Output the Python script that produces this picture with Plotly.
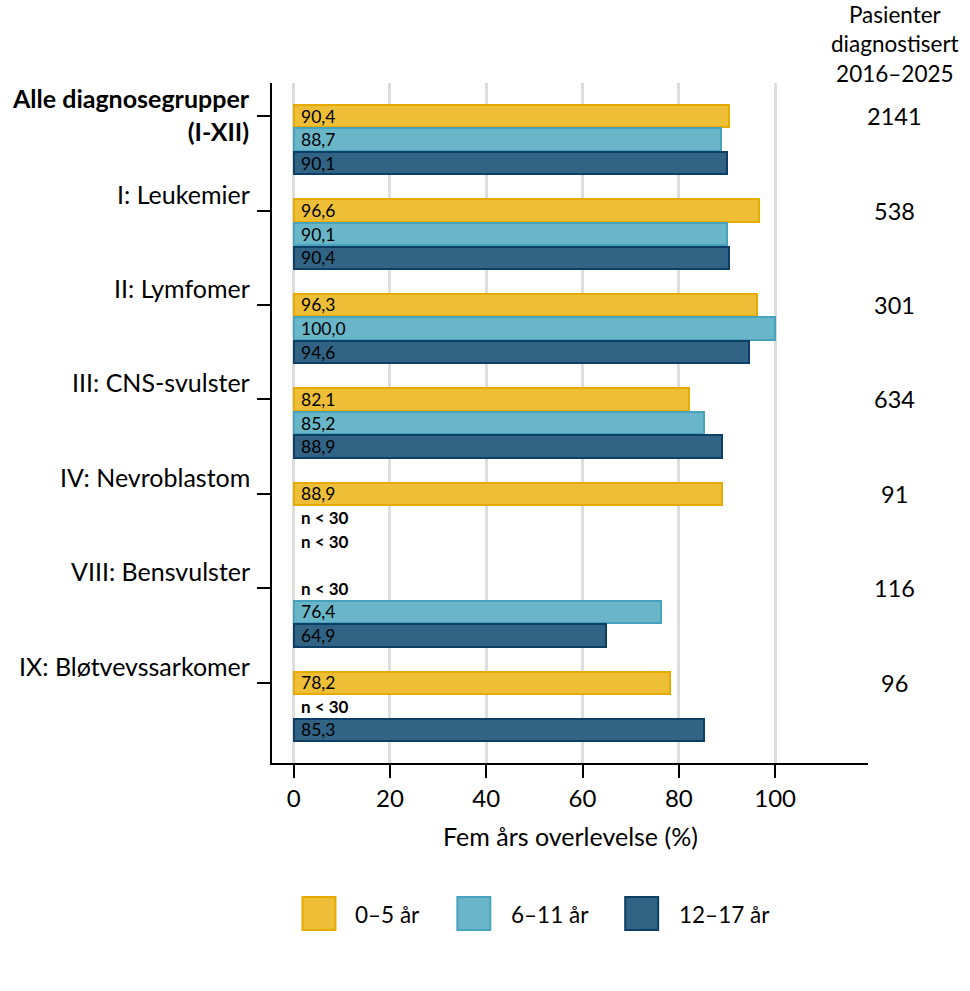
import plotly.graph_objects as go

categories = ["Alle diagnosegrupper<br>(I-XII)", "I: Leukemier", "II: Lymfomer", "III: CNS-svulster",
              "IV: Nevroblastom", "VIII: Bensvulster", "IX: Bløtvevssarkomer"]
bold_category = [True, False, False, False, False, False, False]
series_names = ["0–5 år", "6–11 år", "12–17 år"]
age_0_5 = [90.4, 96.6, 96.3, 82.1, 88.9, None, 78.2]
age_6_11 = [88.7, 90.1, 100.0, 85.2, None, 76.4, None]
age_12_17 = [90.1, 90.4, 94.6, 88.9, None, 64.9, 85.3]
patients = [2141, 538, 301, 634, 91, 116, 96]
x_ticks = [0, 20, 40, 60, 80, 100]
header_lines = ["Pasienter", "diagnostisert", "2016–2025"]
x_title = "Fem års overlevelse (%)"
missing_label = "n < 30"

fills = ["#EDBE36", "#69B6C9", "#316384"]
borders = ["#E6AA00", "#47A3BD", "#0D3E66"]

FONT = "Lato"
W, H = 970, 991
L, R, T, B = 271.5, 102, 83, 228
PW, PH = W - L - R, H - T - B


def px_x(px):
    return (px - L) / PW


def px_y(py):
    return (H - B - py) / PH


def fmt(v):
    return f"{v:.1f}".replace(".", ",")


fig = go.Figure()
all_series = [age_0_5, age_6_11, age_12_17]
annotations = []
n_groups = len(categories)

for j, vals in enumerate(all_series):
    ys = [4 * i + j for i in range(n_groups)]
    fig.add_trace(go.Bar(
        x=[v for v in vals], y=ys, orientation="h", width=0.95,
        marker=dict(color=fills[j], line=dict(color=borders[j], width=2)),
        name=series_names[j], showlegend=False, hoverinfo="skip",
    ))
    for i, v in enumerate(vals):
        if v is not None:
            annotations.append(dict(x=0, y=ys[i], xref="x", yref="y", text=fmt(v), showarrow=False,
                                    xanchor="left", xshift=5, yshift=0,
                                    font=dict(family=FONT, size=17.5, color="black")))
        else:
            annotations.append(dict(x=0, y=ys[i], xref="x", yref="y", text="<b>" + missing_label + "</b>",
                                    showarrow=False, xanchor="left", xshift=5,
                                    font=dict(family=FONT, size=17, color="black")))

for i, cat in enumerate(categories):
    txt = cat
    if bold_category[i]:
        txt = "<b>" + cat.replace("<br>", "</b><br><b>") + "</b>"
    annotations.append(dict(x=px_x(251), y=4 * i, xref="paper", yref="y", text=txt, showarrow=False,
                            xanchor="right", align="right", yanchor="middle",
                            yshift=2 if "<br>" in cat else 17,
                            font=dict(family=FONT, size=25, color="black")))
    annotations.append(dict(x=px_x(895), y=4 * i, xref="paper", yref="y", text=str(patients[i]),
                            showarrow=False, xanchor="center", yanchor="middle",
                            font=dict(family=FONT, size=23.5, color="black")))

annotations.append(dict(x=px_x(895), y=px_y(44), xref="paper", yref="paper", text="<br>".join(header_lines),
                        showarrow=False, xanchor="center", yanchor="middle", align="center",
                        font=dict(family=FONT, size=22.5, color="black")))

annotations.append(dict(x=0.5, y=px_y(836), xref="paper", yref="paper", text=x_title, showarrow=False,
                        xanchor="center", yanchor="middle", font=dict(family=FONT, size=25, color="black")))

shapes = []
legend_box_x = [302, 457, 625]
legend_text_x = [353, 509, 677]
for j in range(3):
    shapes.append(dict(type="rect", xref="paper", yref="paper",
                       x0=px_x(legend_box_x[j]), x1=px_x(legend_box_x[j] + 33),
                       y0=px_y(897), y1=px_y(930),
                       fillcolor=fills[j], line=dict(color=borders[j], width=2)))
    annotations.append(dict(x=px_x(legend_text_x[j]), y=px_y(914), xref="paper", yref="paper",
                            text=series_names[j], showarrow=False, xanchor="left", yanchor="middle",
                            font=dict(family=FONT, size=22.5, color="black")))

fig.update_layout(
    width=W, height=H, margin=dict(l=L, r=R, t=T, b=B),
    paper_bgcolor="white", plot_bgcolor="white",
    barmode="overlay", bargap=0,
    annotations=annotations, shapes=shapes,
    font=dict(family=FONT, size=23, color="black"),
)
fig.update_xaxes(range=[-4.5, 119.3], tickvals=x_ticks, ticktext=[str(t) for t in x_ticks],
                 showgrid=True, gridcolor="#DDDDDD", gridwidth=3, zeroline=False,
                 showline=True, linecolor="black", linewidth=2,
                 ticks="outside", ticklen=13, tickwidth=2, tickcolor="black",
                 tickfont=dict(family=FONT, size=24, color="black"))
fig.update_yaxes(range=[26 + 1.4, -1.4], tickvals=[4 * i for i in range(n_groups)],
                 showticklabels=False, showgrid=False, zeroline=False,
                 showline=True, linecolor="black", linewidth=2,
                 ticks="outside", ticklen=13, tickwidth=2, tickcolor="black")

fig.write_html("out.html")
